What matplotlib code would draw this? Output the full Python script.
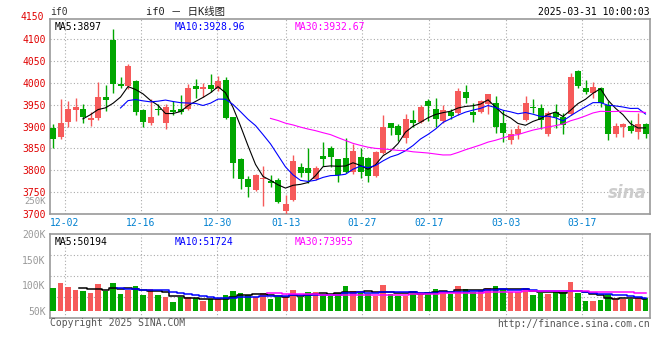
import matplotlib
matplotlib.use('Agg')
import matplotlib.pyplot as plt
import numpy as np
import pandas as pd

plt.rcParams['font.family'] = ['DejaVu Sans Mono', 'Noto Sans CJK SC']

# 日K 数据
opens = [3896, 3875, 3910, 3938, 3940, 3914, 3920, 3967, 4098, 3997,
         3993, 4004, 3939, 3907, 3940, 3909, 3938, 3940, 3940, 3993,
         3986, 3995, 3987, 4007, 3922, 3825, 3781, 3754, 3779, 3776,
         3777, 3708, 3731, 3807, 3806, 3781, 3833, 3850, 3825, 3829,
         3796, 3830, 3828, 3786, 3840, 3907, 3901, 3874, 3915, 3911,
         3958, 3940, 3912, 3933, 3932, 3980, 3934, 3934, 3951, 3955,
         3909, 3870, 3882, 3915, 3945, 3943, 3882, 3934, 3922, 3928,
         4026, 3989, 3976, 3989, 3949, 3883, 3899, 3901, 3888, 3905]
highs = [3905, 3964, 3958, 3966, 3951, 3934, 4001, 3994, 4124, 4014,
         4044, 4007, 3941, 3963, 3951, 3951, 3958, 3972, 3997, 4009,
         3999, 4020, 4016, 4013, 3922, 3829, 3787, 3792, 3810, 3790,
         3782, 3743, 3836, 3816, 3850, 3810, 3865, 3856, 3826, 3873,
         3860, 3852, 3830, 3843, 3926, 3909, 3905, 3928, 3939, 3949,
         3963, 3966, 3949, 3941, 3988, 3995, 3955, 3961, 3974, 3970,
         3938, 3895, 3903, 3970, 3964, 3951, 3935, 3951, 3930, 4022,
         4030, 4007, 4001, 3991, 3958, 3909, 3909, 3915, 3930, 3909]
lows = [3851, 3871, 3899, 3912, 3909, 3902, 3914, 3936, 3976, 3989,
        3987, 3926, 3899, 3903, 3926, 3895, 3926, 3928, 3938, 3966,
        3968, 3978, 3981, 3917, 3782, 3758, 3738, 3752, 3718, 3762,
        3725, 3701, 3729, 3784, 3772, 3778, 3810, 3808, 3773, 3794,
        3792, 3782, 3773, 3784, 3838, 3880, 3866, 3863, 3899, 3909,
        3912, 3899, 3907, 3918, 3926, 3955, 3911, 3932, 3928, 3886,
        3865, 3859, 3871, 3912, 3930, 3894, 3878, 3897, 3882, 3926,
        3989, 3974, 3966, 3945, 3869, 3876, 3876, 3886, 3871, 3874]
closes = [3871, 3909, 3941, 3945, 3922, 3919, 3967, 3961, 3997, 3993,
          4039, 3934, 3911, 3922, 3937, 3945, 3934, 3934, 3989, 3985,
          3991, 3987, 4004, 3920, 3817, 3779, 3761, 3790, 3783, 3772,
          3728, 3723, 3822, 3794, 3793, 3806, 3826, 3831, 3790, 3796,
          3843, 3795, 3787, 3842, 3899, 3897, 3880, 3918, 3909, 3945,
          3948, 3918, 3939, 3925, 3982, 3966, 3926, 3958, 3974, 3899,
          3886, 3882, 3894, 3954, 3943, 3916, 3931, 3922, 3903, 4014,
          3993, 3980, 3991, 3955, 3882, 3901, 3906, 3889, 3906, 3883]
# 成交量 (K)
volumes = [94.8, 105, 96.8, 91, 89, 85.6, 102.6, 89, 105, 83,
           91, 98.7, 81, 92.9, 81, 77.3, 67.5, 76.7, 77.3, 74.7,
           69.5, 72.8, 72.8, 81, 89, 85.6, 81, 77.3, 85, 73.4,
           77.9, 77.3, 91, 77.3, 87, 87, 83, 79.2, 85.7, 98.7,
           89, 84.5, 83.1, 79.2, 100.6, 83.1, 79.2, 79.2, 89, 87,
           87, 92.9, 89, 83.1, 98.7, 92.9, 87, 90.9, 94.8, 98.7,
           92.9, 87, 87, 94.8, 81.2, 85.1, 83.1, 87, 87, 106.5,
           85.1, 69.5, 69.5, 71.4, 83.1, 75.3, 72.8, 72.8, 75.3, 75.3]

date_ticks = [1.6, 11.7, 21.9, 31.1, 41.2, 50.1, 60.4, 70.5]
date_labels = ['12-02', '12-16', '12-30', '01-13', '01-27', '02-17', '03-03', '03-17']
price_ticks = [3700, 3750, 3800, 3850, 3900, 3950, 4000, 4050, 4100]
vol_ticks = [50, 100, 150, 200]
vol_labels = ['50K', '100K', '150K', '200K']
vol_base = 50

RED = '#f65a5a'
GREEN = '#00a600'
FRAME = '#999999'
GRID = '#aaaaaa'

df = pd.DataFrame({'o': opens, 'h': highs, 'l': lows, 'c': closes, 'v': volumes})
x = np.arange(len(df))
up = df['c'] >= df['o']
colors = np.where(up, RED, GREEN)

fig = plt.figure(figsize=(6.6, 3.6), dpi=100)
ax = fig.add_axes([50/660, 1-214/360, 600/660, 195/360])
axv = fig.add_axes([50/660, 1-318/360, 600/660, 84/360])

# K线
ax.vlines(x, df['l'], df['h'], colors=colors, linewidth=1, zorder=3)
body = np.maximum((df['c'] - df['o']).abs(), 2)
ax.bar(x, body, bottom=np.minimum(df['o'], df['c']), width=0.8,
       color=colors, linewidth=0, zorder=4)
ax.plot(x, df['c'].rolling(5).mean(), color='black', lw=0.8, zorder=5)
ax.plot(x, df['c'].rolling(10).mean(), color='#0000ff', lw=0.8, zorder=5)
ax.plot(x, df['c'].rolling(30).mean(), color='#ff00ff', lw=0.8, zorder=5)

ax.set_xlim(-0.4, 79.6)
ax.set_ylim(3700, 4146)
ax.set_yticks(price_ticks)
ax.set_yticklabels([str(p) for p in price_ticks], color='#e00000', fontsize=7)
ax.text(-0.01, 4150, '4150', transform=ax.get_yaxis_transform(), ha='right',
        va='center', color='#e00000', fontsize=7, clip_on=False)
ax.set_xticks(date_ticks)
ax.set_xticklabels(date_labels, color='#0080d0', fontsize=7)
ax.tick_params(length=0, pad=3)
ax.grid(True, color=GRID, linestyle=(0, (1, 2)), linewidth=0.8)
ax.set_axisbelow(True)

ax.text(0.008, 0.985, 'MA5:3897', transform=ax.transAxes, fontsize=7,
        va='top', color='black')
ax.text(0.207, 0.985, 'MA10:3928.96', transform=ax.transAxes, fontsize=7,
        va='top', color='#0000ff')
ax.text(0.408, 0.985, 'MA30:3932.67', transform=ax.transAxes, fontsize=7,
        va='top', color='#ff00ff')
ax.text(0.995, 0.06, 'sina', transform=ax.transAxes, fontsize=12,
        style='italic', weight='bold', color='#cccccc', ha='right',
        va='bottom', family='DejaVu Sans', zorder=1)

# 成交量
axv.bar(x, df['v'] - vol_base, bottom=vol_base, width=0.78, color=colors,
        linewidth=0, zorder=3)
axv.plot(x, df['v'].rolling(5).mean(), color='black', lw=1.1,
         drawstyle='steps-mid', zorder=4)
axv.plot(x, df['v'].rolling(10).mean(), color='#0000ff', lw=1.1,
         drawstyle='steps-mid', zorder=4)
axv.plot(x, df['v'].rolling(30).mean(), color='#ff00ff', lw=1.1,
         drawstyle='steps-mid', zorder=4)
vlo, vhi = 36.4, 200
axv.set_xlim(-0.4, 79.6)
axv.set_ylim(vlo, vhi)
axv.set_yticks(vol_ticks)
axv.set_yticklabels(vol_labels, color='#999999', fontsize=7)
axv.set_xticks(date_ticks)
axv.set_xticklabels([])
axv.tick_params(length=0, pad=3)
axv.xaxis.grid(True, color=GRID, linestyle=(0, (1, 2)), linewidth=0.8)
for k in (1, 2, 3):
    axv.axhline(vlo + (vhi - vlo) * k / 4, color=GRID,
                linestyle=(0, (1, 2)), linewidth=0.8, zorder=1)
axv.set_axisbelow(True)
axv.text(0.008, 0.97, 'MA5:50194', transform=axv.transAxes, fontsize=7,
         va='top', color='black')
axv.text(0.208, 0.97, 'MA10:51724', transform=axv.transAxes, fontsize=7,
         va='top', color='#0000ff')
axv.text(0.408, 0.97, 'MA30:73955', transform=axv.transAxes, fontsize=7,
         va='top', color='#ff00ff')

for a in (ax, axv):
    for s in a.spines.values():
        s.set_color(FRAME)
        s.set_linewidth(1.2)

# 顶部/底部文字
fig.text(50/660, 1-12/360, 'if0', fontsize=7, color='#333333', va='center')
fig.text(186/660, 1-12/360, 'if0 － 日K线图', fontsize=7.5, color='#222222',
         va='center', ha='center')
fig.text(650/660, 1-12/360, '2025-03-31 10:00:03', fontsize=7, color='black',
         va='center', ha='right')
fig.text(46/660, 1-201.5/360, '250K', fontsize=6.5, color='#999999',
         va='center', ha='right')
fig.text(50/660, 1-323/360, 'Copyright 2025 SINA.COM', fontsize=7,
         color='#555555', va='center')
fig.text(650/660, 1-324/360, 'http://finance.sina.com.cn', fontsize=7,
         color='#555555', va='center', ha='right')

fig.savefig('out.png', dpi=100, facecolor='white')
